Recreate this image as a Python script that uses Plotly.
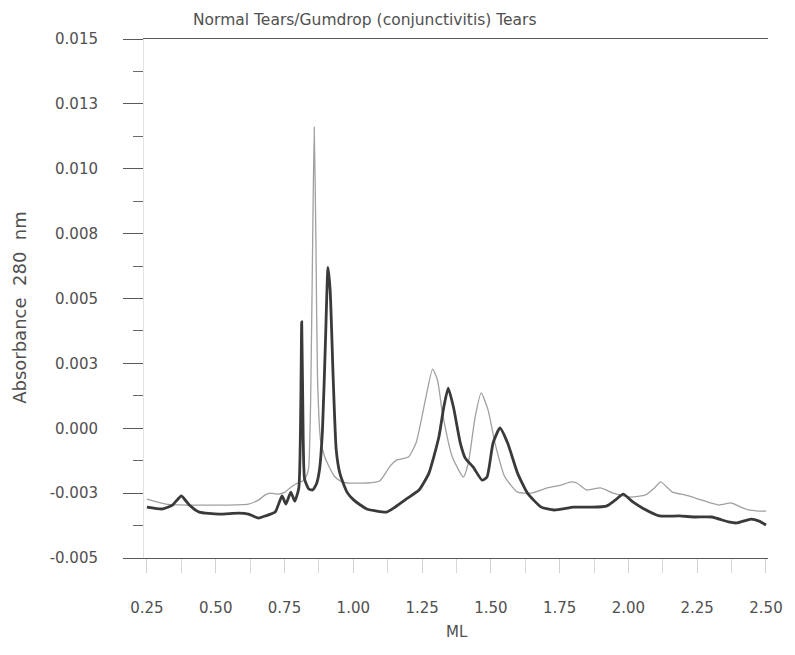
import plotly.graph_objects as go

# Elution volume (ML) and absorbance at 280 nm for the two tear samples
normal_ml = [0.25, 0.32, 0.415, 0.512, 0.619, 0.655, 0.680, 0.698, 0.727, 0.752,
             0.773, 0.798, 0.816, 0.830, 0.838, 0.845, 0.852, 0.858, 0.8645, 0.870,
             0.881, 0.895, 0.913, 0.931, 0.952, 0.977, 1.049, 1.096, 1.131, 1.157,
             1.200, 1.228, 1.264, 1.288, 1.306, 1.324, 1.360, 1.400, 1.418, 1.443,
             1.465, 1.490, 1.515, 1.551, 1.597, 1.647, 1.705, 1.755, 1.791, 1.812,
             1.848, 1.898, 1.945, 2.006, 2.063, 2.095, 2.117, 2.160, 2.206, 2.267,
             2.328, 2.375, 2.400, 2.436, 2.471, 2.500]
normal_abs = [-0.00273, -0.00292, -0.00296, -0.00296, -0.00292, -0.00277, -0.00257, -0.00250, -0.00254, -0.00246,
              -0.00227, -0.00211, -0.00203, -0.00184, -0.00150, 0.00110, 0.00690, 0.01160, 0.00690, 0.00190,
              -0.00045, -0.00107, -0.00150, -0.00184, -0.00203, -0.00211, -0.00211, -0.00203, -0.00150, -0.00123,
              -0.00111, -0.00057, 0.00120, 0.00228, 0.00186, 0.00059, -0.00111, -0.00188, -0.00134, 0.00044,
              0.00136, 0.00070, -0.00057, -0.00188, -0.00246, -0.00250, -0.00230, -0.00219, -0.00207, -0.00211,
              -0.00238, -0.00230, -0.00250, -0.00265, -0.00257, -0.00230, -0.00207, -0.00246, -0.00257, -0.00277,
              -0.00296, -0.00288, -0.00300, -0.00315, -0.00319, -0.00319]

gumdrop_ml = [0.25, 0.307, 0.343, 0.375, 0.404, 0.440, 0.512, 0.583, 0.619, 0.655,
              0.680, 0.716, 0.741, 0.755, 0.773, 0.787, 0.802, 0.8125, 0.818, 0.823,
              0.838, 0.852, 0.866, 0.877, 0.888, 0.899, 0.908, 0.916, 0.927, 0.938,
              0.952, 0.977, 1.002, 1.049, 1.121, 1.146, 1.192, 1.239, 1.275, 1.311,
              1.329, 1.345, 1.364, 1.389, 1.407, 1.436, 1.468, 1.486, 1.508, 1.533,
              1.561, 1.597, 1.633, 1.683, 1.730, 1.801, 1.862, 1.920, 1.952, 1.981,
              2.016, 2.052, 2.113, 2.185, 2.242, 2.303, 2.364, 2.393, 2.446, 2.475,
              2.500]
gumdrop_abs = [-0.00304, -0.00311, -0.00296, -0.00261, -0.00296, -0.00323, -0.00331, -0.00327, -0.00331, -0.00346,
               -0.00338, -0.00323, -0.00261, -0.00292, -0.00246, -0.00281, -0.00230, 0.00410, -0.00045, -0.00196,
               -0.00234, -0.00238, -0.00215, -0.00161, -0.00007, 0.00340, 0.00620, 0.00530, 0.00190, -0.00084,
               -0.00177, -0.00246, -0.00277, -0.00311, -0.00323, -0.00308, -0.00273, -0.00238, -0.00173, -0.00034,
               0.00082, 0.00155, 0.00082, -0.00057, -0.00115, -0.00150, -0.00200, -0.00188, -0.00057, 0.00001,
               -0.00057, -0.00173, -0.00250, -0.00304, -0.00315, -0.00304, -0.00304, -0.00300, -0.00277, -0.00254,
               -0.00284, -0.00308, -0.00338, -0.00338, -0.00342, -0.00342, -0.00361, -0.00365, -0.00350, -0.00358,
               -0.00373]

# Axis ticks
y_tick_vals = [-0.005, -0.0025, 0.0, 0.0025, 0.005, 0.0075, 0.01, 0.0125, 0.015]
y_tick_text = ["-0.005", "-0.003", "0.000", "0.003", "0.005", "0.008", "0.010", "0.013", "0.015"]
x_tick_vals = [0.25, 0.50, 0.75, 1.00, 1.25, 1.50, 1.75, 2.00, 2.25, 2.50]
x_tick_text = ["0.25", "0.50", "0.75", "1.00", "1.25", "1.50", "1.75", "2.00", "2.25", "2.50"]

FONT = "DejaVu Sans"
TEXT = "#505050"

fig = go.Figure()
fig.add_trace(go.Scatter(
    x=normal_ml, y=normal_abs, mode="lines", name="Normal Tears",
    line=dict(color="#a0a0a0", width=1.3, shape="spline", smoothing=0.5),
))
fig.add_trace(go.Scatter(
    x=gumdrop_ml, y=gumdrop_abs, mode="lines", name="Gumdrop (conjunctivitis) Tears",
    line=dict(color="#3a3a3a", width=2.8, shape="spline", smoothing=0.5),
))

fig.update_layout(
    width=795, height=655,
    margin=dict(l=144, r=18, t=39, b=97),
    paper_bgcolor="white", plot_bgcolor="white",
    showlegend=False,
    font=dict(family=FONT, color=TEXT),
    xaxis=dict(
        range=[0.2393, 2.5073],
        tickmode="array", tickvals=x_tick_vals, ticktext=x_tick_text,
        ticks="outside", ticklen=14, tickwidth=1, tickcolor="#d0d0d0",
        minor=dict(dtick=0.125, tick0=0.125, ticks="outside", ticklen=14,
                   tickwidth=1, tickcolor="#d8d8d8"),
        showline=True, linecolor="#5a5a5a", linewidth=1.4, mirror=True,
        showgrid=False, zeroline=False,
        tickfont=dict(family=FONT, size=15, color=TEXT),
        ticklabelstandoff=22,
    ),
    yaxis=dict(
        range=[-0.005, 0.015],
        tickmode="array", tickvals=y_tick_vals, ticktext=y_tick_text,
        ticks="outside", ticklen=20, tickwidth=1.4, tickcolor="#5a5a5a",
        minor=dict(dtick=0.00125, tick0=-0.005, ticks="outside", ticklen=10,
                   tickwidth=1.2, tickcolor="#6a6a6a"),
        showline=True, linecolor="#e2e2e2", linewidth=1,
        showgrid=False, zeroline=False,
        tickfont=dict(family=FONT, size=15, color=TEXT),
        ticklabelstandoff=22,
    ),
    annotations=[
        dict(text="Normal Tears/Gumdrop (conjunctivitis) Tears",
             xref="paper", yref="paper", x=0.354, y=1.0366,
             xanchor="center", yanchor="middle", showarrow=False,
             font=dict(family=FONT, size=15.5, color=TEXT)),
        dict(text="Absorbance\u00a0 280\u00a0 nm",
             xref="paper", yref="paper", x=-0.2006, y=0.4836,
             xanchor="center", yanchor="middle", textangle=-90, showarrow=False,
             font=dict(family=FONT, size=18, color=TEXT)),
        dict(text="ML",
             xref="paper", yref="paper", x=0.5024, y=-0.1426,
             xanchor="center", yanchor="middle", showarrow=False,
             font=dict(family=FONT, size=15, color=TEXT)),
    ],
)

fig.write_html("out.html")
